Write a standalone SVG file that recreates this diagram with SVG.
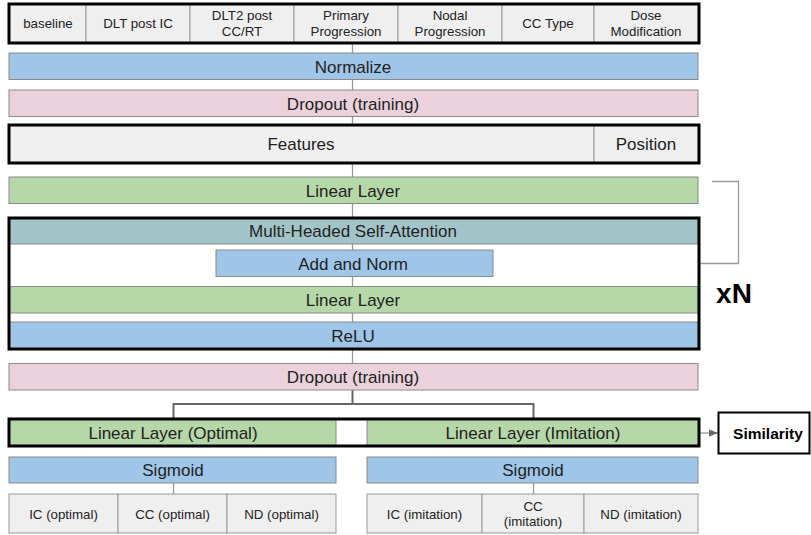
<svg xmlns="http://www.w3.org/2000/svg" width="811" height="535" viewBox="0 0 811 535">
<defs>
<style>
text{font-family:"Liberation Sans",Arial,sans-serif;fill:#222;text-anchor:middle}
.c{font-size:13.3px}
.b{font-size:17px}
.cell{fill:#efefef;stroke:#999;stroke-width:1}
.blue{fill:#9fc5e8;stroke:#8a8a8a;stroke-width:1}
.pink{fill:#ead1dc;stroke:#8a8a8a;stroke-width:1}
.green{fill:#b6d7a8;stroke:#8a8a8a;stroke-width:1}
.teal{fill:#a2c4c9;stroke:#8a8a8a;stroke-width:1}
.thick{fill:none;stroke:#000;stroke-width:3}
.ln{fill:none;stroke:#999;stroke-width:1.3}
</style>
<marker id="ah" viewBox="0 0 10 10" refX="10" refY="5" markerWidth="9" markerHeight="9" orient="auto" markerUnits="userSpaceOnUse">
<path d="M0,1 L10,5 L0,9 z" fill="#666"/>
</marker>
</defs>
<rect width="811" height="535" fill="#fff"/>
<g id="connectors">
<line class="ln" x1="352.5" y1="43" x2="352.5" y2="363"/>
<polyline class="ln" points="712,181.5 738.5,181.5 738.5,263.5 494,263.5" marker-end="url(#ah)"/>
<polyline points="352.5,390 352.5,404 173.5,404 173.5,418" fill="none" stroke="#666" stroke-width="2"/>
<polyline points="352.5,404 533.5,404 533.5,418" fill="none" stroke="#666" stroke-width="2"/>
<line class="ln" x1="700" y1="433" x2="718" y2="433" marker-end="url(#ah)"/>
<line class="ln" x1="173.5" y1="483" x2="173.5" y2="494"/>
<line class="ln" x1="533.5" y1="483" x2="533.5" y2="494"/>
</g>
<g id="inputs">
<rect class="cell" x="9" y="4" width="77" height="39"/>
<rect class="cell" x="86" y="4" width="104" height="39"/>
<rect class="cell" x="190" y="4" width="104" height="39"/>
<rect class="cell" x="294" y="4" width="104" height="39"/>
<rect class="cell" x="398" y="4" width="104" height="39"/>
<rect class="cell" x="502" y="4" width="92" height="39"/>
<rect class="cell" x="594" y="4" width="105" height="39"/>
<rect class="thick" x="9" y="4" width="690" height="39"/>
<text class="c" x="48" y="28">baseline</text>
<text class="c" x="138" y="28">DLT post IC</text>
<text class="c" x="242" y="20">DLT2 post</text>
<text class="c" x="242" y="36">CC/RT</text>
<text class="c" x="346" y="20">Primary</text>
<text class="c" x="346" y="36">Progression</text>
<text class="c" x="450" y="20">Nodal</text>
<text class="c" x="450" y="36">Progression</text>
<text class="c" x="548" y="28">CC Type</text>
<text class="c" x="646" y="20">Dose</text>
<text class="c" x="646" y="36">Modification</text>
</g>
<g id="normalize">
<rect class="blue" x="9" y="53" width="689" height="26.5"/>
<text class="b" x="353" y="72.5">Normalize</text>
</g>
<g id="dropout1">
<rect class="pink" x="9" y="90" width="689" height="26.5"/>
<text class="b" x="353" y="109.5">Dropout (training)</text>
</g>
<g id="features">
<rect class="cell" x="9" y="125" width="585" height="38"/>
<rect class="cell" x="594" y="125" width="105" height="38"/>
<rect class="thick" x="9" y="125" width="690" height="38"/>
<text class="b" x="301" y="150">Features</text>
<text class="b" x="646" y="150">Position</text>
</g>
<g id="linear1">
<rect class="green" x="9" y="177" width="689" height="26.5"/>
<text class="b" x="353" y="196.5">Linear Layer</text>
</g>
<g id="block">
<rect x="9" y="218" width="690" height="131" fill="#fff"/>
<line class="ln" x1="352.5" y1="218" x2="352.5" y2="349"/>
<rect class="teal" x="9" y="218" width="689" height="26"/>
<text class="b" x="353" y="237">Multi-Headed Self-Attention</text>
<g id="addnorm">
<rect class="blue" x="216" y="250" width="277" height="26.5"/>
<text class="b" x="353" y="269.5">Add and Norm</text>
</g>
<rect class="green" x="9" y="286.5" width="689" height="26.5"/>
<text class="b" x="353" y="306">Linear Layer</text>
<rect class="blue" x="9" y="322" width="689" height="26.5"/>
<text class="b" x="353" y="341.5">ReLU</text>
<rect class="thick" x="9" y="218" width="690" height="131"/>
</g>
<g id="xN">
<text x="734" y="303" style="font-size:28px;font-weight:bold;fill:#000">xN</text>
</g>
<g id="dropout2">
<rect class="pink" x="9" y="363.5" width="689" height="26.5"/>
<text class="b" x="353" y="383">Dropout (training)</text>
</g>
<g id="linear-heads">
<rect x="9" y="419" width="690" height="27" fill="#fff"/>
<rect class="green" x="9" y="419" width="327" height="27"/>
<rect class="green" x="367" y="419" width="332" height="27"/>
<rect class="thick" x="9" y="419" width="690" height="27"/>
<text class="b" x="173" y="438.5">Linear Layer (Optimal)</text>
<text class="b" x="533" y="438.5">Linear Layer (Imitation)</text>
</g>
<g id="similarity">
<rect x="718.5" y="412.5" width="91" height="41" fill="#fff" stroke="#000" stroke-width="2"/>
<text x="768" y="438.5" style="font-size:15.5px;font-weight:bold;fill:#000">Similarity</text>
</g>
<g id="sigmoid-opt">
<rect class="blue" x="9" y="457" width="327" height="26"/>
<text class="b" x="173" y="476">Sigmoid</text>
</g>
<g id="sigmoid-imi">
<rect class="blue" x="367" y="457" width="331" height="26"/>
<text class="b" x="533" y="476">Sigmoid</text>
</g>
<g id="out-opt">
<rect class="cell" x="9" y="494" width="109" height="39"/>
<rect class="cell" x="118" y="494" width="109" height="39"/>
<rect class="cell" x="227" y="494" width="109" height="39"/>
<text class="c" x="63.5" y="518.5">IC (optimal)</text>
<text class="c" x="172.5" y="518.5">CC (optimal)</text>
<text class="c" x="281.5" y="518.5">ND (optimal)</text>
</g>
<g id="out-imi">
<rect class="cell" x="367" y="494" width="115" height="39"/>
<rect class="cell" x="482" y="494" width="102" height="39"/>
<rect class="cell" x="584" y="494" width="114" height="39"/>
<text class="c" x="424.5" y="518.5">IC (imitation)</text>
<text class="c" x="533" y="511">CC</text>
<text class="c" x="533" y="526">(imitation)</text>
<text class="c" x="641" y="518.5">ND (imitation)</text>
</g>
</svg>
